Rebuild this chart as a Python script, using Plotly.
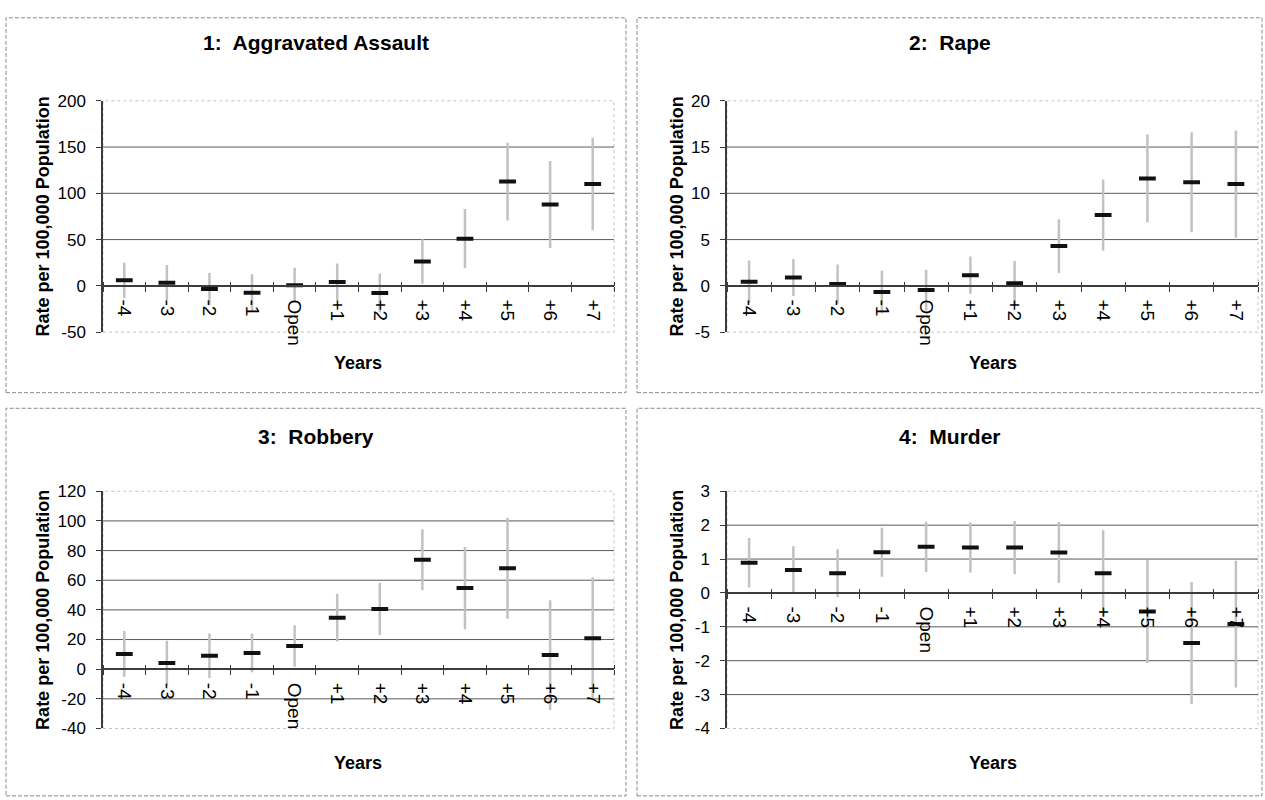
import plotly.graph_objects as go

W, H = 1265, 800

years = ["-4", "-3", "-2", "-1", "Open", "+1", "+2", "+3", "+4", "+5", "+6", "+7"]
titles = ["1:\u00a0 Aggravated Assault", "2:\u00a0 Rape", "3:\u00a0 Robbery", "4:\u00a0 Murder"]

assault = [6, 3.5, -3.5, -7.5, 0.7, 4.2, -7.7, 26.4, 51, 112.7, 88, 110]
assault_err = [19, 19, 17.5, 20, 19, 20, 21, 24, 32, 42, 47, 50]

rape = [0.45, 0.9, 0.2, -0.67, -0.46, 1.16, 0.28, 4.3, 7.65, 11.6, 11.2, 11.0]
rape_err = [2.3, 2.0, 2.1, 2.3, 2.2, 2.0, 2.4, 2.9, 3.85, 4.75, 5.4, 5.8]

robbery = [10.2, 4.1, 9.1, 11, 15.6, 34.7, 40.6, 73.8, 54.7, 68.1, 9.5, 20.8]
robbery_err = [15.5, 15, 15, 13, 14, 16, 17.5, 20.5, 27.7, 34, 37, 41]

murder = [0.89, 0.68, 0.58, 1.2, 1.36, 1.34, 1.34, 1.19, 0.58, -0.55, -1.48, -0.92]
murder_err = [0.73, 0.7, 0.71, 0.72, 0.74, 0.74, 0.78, 0.9, 1.27, 1.52, 1.8, 1.87]

y_ticks = [
    [-50, 0, 50, 100, 150, 200],
    [-5, 0, 5, 10, 15, 20],
    [-40, -20, 0, 20, 40, 60, 80, 100, 120],
    [-4, -3, -2, -1, 0, 1, 2, 3],
]
values = [assault, rape, robbery, murder]
errors = [assault_err, rape_err, robbery_err, murder_err]

# layout geometry (pixels)
plot_x = [(103, 614), (727, 1258), (103, 614), (727, 1258)]
plot_y = [(94, 331), (94, 331), (494, 737), (494, 737)]
panel_box = [(6, 9, 626, 393), (637, 9, 1262, 393), (6, 409, 626, 806), (637, 409, 1262, 806)]
title_y = [34, 34, 438, 438]
years_y = [363, 363, 772, 772]
ytitle_x = [43, 677, 43, 677]

FONT = "Liberation Sans, Arial, sans-serif"

fig = go.Figure()
layout = dict(
    width=W, height=H, margin=dict(l=0, r=0, t=0, b=0),
    paper_bgcolor="white", plot_bgcolor="white",
    showlegend=False, font=dict(family=FONT, color="black"),
)
shapes = []
annotations = []

for i in range(4):
    n = i + 1
    xs = "" if n == 1 else str(n)
    xo = str(n + 4)  # overlay axis for upward tick marks on the zero line
    x0, x1 = plot_x[i]
    yt, yb = plot_y[i]
    ydom = [1 - yb / H, 1 - yt / H]
    ymin, ymax = y_ticks[i][0], y_ticks[i][-1]
    zero_pos = ydom[0] + (0 - ymin) / (ymax - ymin) * (ydom[1] - ydom[0])

    fig.add_trace(go.Scatter(
        x=years, y=values[i], mode="markers",
        marker=dict(symbol="line-ew", size=12, color="#111",
                    line=dict(width=4, color="#111")),
        error_y=dict(type="data", array=errors[i], color="#c2c2c2",
                     thickness=2.5, width=0),
        xaxis="x" + xs, yaxis="y" + xs, hoverinfo="skip",
    ))
    # invisible companion trace so the overlay axis gets drawn
    fig.add_trace(go.Scatter(
        x=years, y=[None] * len(years), mode="markers",
        xaxis="x" + xo, yaxis="y" + xs, hoverinfo="skip",
    ))

    layout["xaxis" + xs] = dict(
        domain=[x0 / W, x1 / W], type="category",
        categoryorder="array", categoryarray=years, range=[-0.5, 11.5],
        anchor="free", position=zero_pos,
        showline=True, linecolor="#3c3c3c", linewidth=1.5,
        ticks="outside", tickson="boundaries", ticklen=5, tickcolor="#3c3c3c",
        tickangle=90, tickfont=dict(size=19, family=FONT, color="black"),
        ticklabelstandoff=9,
        showgrid=False, zeroline=False, fixedrange=True,
    )
    layout["xaxis" + xo] = dict(
        domain=[x0 / W, x1 / W], type="category", overlaying="x" + xs,
        categoryorder="array", categoryarray=years, range=[-0.5, 11.5],
        anchor="free", position=zero_pos, side="top",
        showline=False, ticks="outside", tickson="boundaries", ticklen=4,
        tickcolor="#3c3c3c", showticklabels=False,
        showgrid=False, zeroline=False, fixedrange=True,
    )
    layout["yaxis" + xs] = dict(
        domain=ydom, range=[ymin, ymax], anchor="x" + xs,
        tickmode="array", tickvals=y_ticks[i],
        ticktext=[str(v) for v in y_ticks[i]],
        showline=True, linecolor="#3c3c3c", linewidth=1.5,
        ticks="outside", ticklen=5, tickcolor="#3c3c3c",
        tickfont=dict(size=17, family=FONT, color="black"),
        ticklabelstandoff=7,
        showgrid=False, zeroline=False, fixedrange=True,
    )

    # plot-area border (light dotted)
    shapes.append(dict(type="rect", xref="x" + xs + " domain", yref="y" + xs + " domain",
                       x0=0, x1=1, y0=0, y1=1, layer="below",
                       line=dict(color="#c4c4c4", width=1, dash="dot")))
    # inner gridlines
    for v in y_ticks[i][1:-1]:
        if v == 0:
            continue
        shapes.append(dict(type="line", xref="x" + xs + " domain", yref="y" + xs,
                           x0=0, x1=1, y0=v, y1=v, layer="below",
                           line=dict(color="#5a5a5a", width=1)))

    # panel outer box
    bx0, by0, bx1, by1 = panel_box[i]
    shapes.append(dict(type="rect", xref="paper", yref="paper",
                       x0=bx0 / W, x1=bx1 / W, y0=1 - by1 / H, y1=1 - by0 / H,
                       line=dict(color="#8a8a8a", width=1, dash="4px,2px")))

    # panel title
    annotations.append(dict(text="<b>" + titles[i] + "</b>", xref="paper", yref="paper",
                            x=(bx0 + bx1) / 2 / W, y=1 - title_y[i] / H,
                            showarrow=False, xanchor="center", yanchor="middle",
                            font=dict(size=21, family=FONT, color="black")))
    # x title
    annotations.append(dict(text="<b>Years</b>", xref="paper", yref="paper",
                            x=(x0 + x1) / 2 / W, y=1 - years_y[i] / H,
                            showarrow=False, xanchor="center", yanchor="middle",
                            font=dict(size=18, family=FONT, color="black")))
    # y title
    annotations.append(dict(text="<b>Rate per 100,000 Population</b>", xref="paper", yref="paper",
                            x=ytitle_x[i] / W, y=1 - (yt + yb) / 2 / H,
                            showarrow=False, xanchor="center", yanchor="middle",
                            textangle=-90,
                            font=dict(size=18, family=FONT, color="black")))

layout["shapes"] = shapes
layout["annotations"] = annotations
fig.update_layout(**layout)
fig.write_html("out.html")
